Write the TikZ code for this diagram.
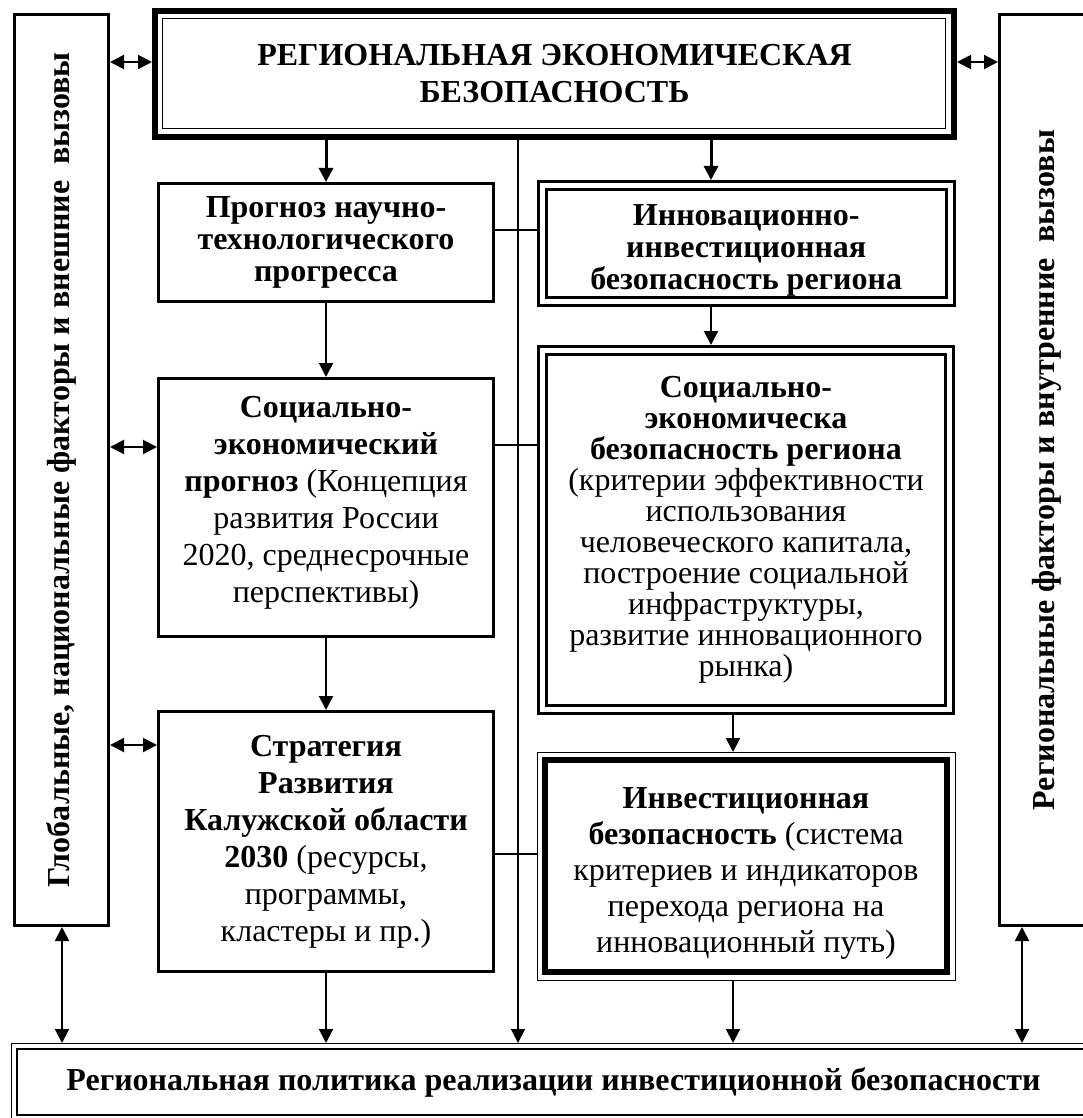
\documentclass[tikz,border=0pt]{standalone}
\usepackage{fontspec}
\usepackage{graphicx}
\setmainfont{Liberation Serif}
\usetikzlibrary{arrows.meta}
\newcommand{\uppush}[1]{\rule{0pt}{#1}}
\newcommand{\downpush}[1]{\rule[-#1]{0pt}{0pt}}
\begin{document}
\begin{tikzpicture}[x=1pt,y=-1pt,
  box/.style={draw, line width=3pt, inner sep=0pt, align=center},
  dbox/.style={draw, line width=3pt, double, double distance=5pt, outer sep=5.5pt, inner sep=0pt, align=center},
  fA/.style={font=\fontsize{32}{37}\selectfont},
  fB/.style={font=\fontsize{32}{31}\selectfont},
  fC/.style={font=\fontsize{32}{36}\selectfont},
  fD/.style={font=\fontsize{32}{32}\selectfont},
  arr/.style={line width=2pt, -{Triangle[length=14pt,width=14pt]}},
  darr/.style={line width=2pt, {Triangle[length=14pt,width=14pt]}-{Triangle[length=14pt,width=14pt]}},
  conn/.style={line width=1.5pt},
]
\useasboundingbox (0,0) rectangle (1083,1118);

% coordinates for connector lines
\coordinate (xL) at (326,0);
\coordinate (xR1) at (711,0);
\coordinate (xR2) at (733,0);
\coordinate (xC) at (518,0);
\coordinate (xLL) at (62,0);
\coordinate (xRR) at (1022,0);
\coordinate (y1) at (0,62);
\coordinate (y2) at (0,447);
\coordinate (y3) at (0,745);
\coordinate (h1) at (0,230);
\coordinate (h2) at (0,445);
\coordinate (h3) at (0,854);

% top box
\node[draw, line width=6pt, inner sep=0pt, align=center, minimum width=799pt, minimum height=126pt,
      font=\bfseries\fontsize{32}{37}\selectfont] (top) at (554.5,74)
  {РЕГИОНАЛЬНАЯ ЭКОНОМИЧЕСКАЯ\\БЕЗОПАСНОСТЬ};
\draw[line width=1.5pt] ([xshift=10.5pt,yshift=-10.5pt]top.north west) rectangle ([xshift=-11.5pt,yshift=11.5pt]top.south east);

% side boxes
\node[box, minimum width=94pt, minimum height=911pt] (lft) at (61.5,470)
  {\rotatebox{90}{\bfseries\fontsize{32}{37}\selectfont Глобальные, национальные факторы и внешние~ вызовы}};
\node[box, minimum width=94pt, minimum height=911pt] (rgt) at (1046.5,470)
  {\rotatebox{90}{\bfseries\fontsize{32}{37}\selectfont Региональные факторы и внутренние~ вызовы}};

% left column
\node[box, fD, minimum width=335pt, minimum height=118pt] (prog) at (326,242.5)
  {\textbf{Прогноз научно-}\\\textbf{технологического}\\\textbf{прогресса}};
\node[box, fA, minimum width=335pt, minimum height=258pt] (soc) at (326,507.5)
  {\textbf{Социально-}\\\textbf{экономический}\\\textbf{прогноз} (Концепция\\развития России\\2020, среднесрочные\\перспективы)\downpush{17pt}};
\node[box, fA, minimum width=335pt, minimum height=260pt] (str) at (326,841.5)
  {\textbf{Стратегия}\\\textbf{Развития}\\\textbf{Калужской области}\\\textbf{2030} (ресурсы,\\программы,\\кластеры и пр.)};

% right column
\node[dbox, fD, minimum width=407.5pt, minimum height=116pt] (inn) at (746.25,243.5)
  {\uppush{34pt}\textbf{Инновационно-}\\\textbf{инвестиционная}\\\textbf{безопасность региона}};
\node[dbox, fB, minimum width=407pt, minimum height=359pt] (soc2) at (746,530)
  {\textbf{Социально-}\\\textbf{экономическа}\\\textbf{безопасность региона}\\(критерии эффективности\\использования\\человеческого капитала,\\построение социальной\\инфраструктуры,\\развитие инновационного\\рынка)};
\node[draw, line width=6pt, outer sep=8pt, inner sep=0pt, align=center, fC, minimum width=402pt, minimum height=212pt] (inv) at (746,866)
  {\uppush{35pt}\textbf{Инвестиционная}\\\textbf{безопасность} (система\\критериев и индикаторов\\перехода региона на\\инновационный путь)};
\draw[line width=1pt] (inv.north west) rectangle (inv.south east);

% bottom box
\node[draw, line width=2.5pt, outer sep=6pt, inner sep=0pt, minimum width=1073pt, minimum height=66pt,
      font=\bfseries\fontsize{32}{37}\selectfont] (bot) at (553.5,1082)
  {Региональная политика реализации инвестиционной безопасности};
\draw[line width=1pt] (bot.north west) rectangle (bot.south east);

% horizontal connectors
\draw[conn] (prog.east |- h1) -- (inn.west |- h1);
\draw[conn] (soc.east |- h2) -- (soc2.west |- h2);
\draw[conn] (str.east |- h3) -- (inv.west |- h3);

% arrows
\draw[darr] (lft.east |- y1) -- (top.west |- y1);
\draw[darr] (top.east |- y1) -- (rgt.west |- y1);
\draw[darr] (lft.east |- y2) -- (soc.west |- y2);
\draw[darr] (lft.east |- y3) -- (str.west |- y3);
\draw[darr] (lft.south -| xLL) -- (bot.north -| xLL);
\draw[darr] (rgt.south -| xRR) -- (bot.north -| xRR);
\draw[arr, line width=3pt] (top.south -| xL) -- (prog.north -| xL);
\draw[arr, line width=3pt] (top.south -| xR1) -- (inn.north -| xR1);
\draw[arr] (prog.south -| xL) -- (soc.north -| xL);
\draw[arr] (soc.south -| xL) -- (str.north -| xL);
\draw[arr] (str.south -| xL) -- (bot.north -| xL);
\draw[arr] (inn.south -| xR1) -- (soc2.north -| xR1);
\draw[arr] (soc2.south -| xR2) -- (inv.north -| xR2);
\draw[arr] (inv.south -| xR2) -- (bot.north -| xR2);
\draw[arr, line width=1.5pt] (top.south -| xC) -- (bot.north -| xC);
\end{tikzpicture}
\end{document}
